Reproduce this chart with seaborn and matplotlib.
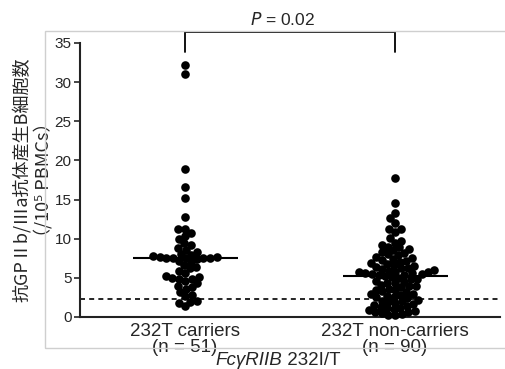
import numpy as np
import pandas as pd
import matplotlib
matplotlib.use("Agg")
import matplotlib.pyplot as plt
import seaborn as sns
from matplotlib.patches import Rectangle

# 抗GPIIb/IIIa抗体産生B細胞数 per 10^5 PBMCs
groups = ["232T carriers\n(n = 51)", "232T non-carriers\n(n = 90)"]

carriers = [32.2, 31.1, 18.9, 16.6, 15.2, 12.8, 11.2, 11.2, 10.7, 10.3,
            9.9, 9.4, 9.2, 8.8, 8.6, 8.3, 8.1, 7.9, 7.8, 7.7,
            7.7, 7.6, 7.6, 7.6, 7.55, 7.5, 7.4, 7.2, 7.0, 6.7,
            6.4, 6.2, 5.9, 5.6, 5.3, 5.1, 5.0, 4.9, 4.8, 4.6,
            4.3, 4.0, 3.8, 3.6, 3.2, 2.8, 2.7, 2.0, 1.9, 1.8, 1.4]

non_carriers = [17.8, 14.6, 13.3, 12.6, 12.0, 11.2, 11.2, 10.8, 10.1, 9.7,
                9.5, 9.2, 9.0, 8.9, 8.7, 8.5, 8.3, 8.2, 8.0, 7.9,
                7.7, 7.6, 7.4, 7.3, 7.1, 7.0, 6.9, 6.8, 6.6, 6.5,
                6.4, 6.3, 6.2, 6.1, 6.0, 5.9, 5.8, 5.8, 5.7, 5.6,
                5.6, 5.5, 5.5, 5.4, 5.4, 5.2, 5.1, 5.0, 4.9, 4.8,
                4.6, 4.5, 4.4, 4.3, 4.1, 4.0, 3.9, 3.8, 3.6, 3.5,
                3.4, 3.3, 3.2, 3.0, 2.9, 2.8, 2.7, 2.6, 2.5, 2.4,
                2.2, 2.1, 2.0, 1.9, 1.8, 1.7, 1.5, 1.4, 1.3, 1.2,
                1.1, 1.0, 0.9, 0.8, 0.7, 0.6, 0.5, 0.4, 0.3, 0.2]

cutoff = 2.3
x_title_it = "Fc\u03b3RIIB"
x_title_rest = " 232I/T"
y_label = "抗GPⅡb/Ⅲa抗体産生B細胞数\n（/10⁵ PBMCs）"

df = pd.DataFrame({
    "group": [groups[0]] * len(carriers) + [groups[1]] * len(non_carriers),
    "value": carriers + non_carriers,
})
medians = df.groupby("group", sort=False)["value"].median().tolist()

sns.set_style("ticks")
plt.rcParams["font.family"] = ["Liberation Sans", "Noto Sans CJK JP", "DejaVu Sans"]

fig = plt.figure(figsize=(5.05, 3.69), dpi=100)
# faint frame around the panel
fig.patches.append(Rectangle((45 / 505, 1 - 348 / 369), 520 / 505, 317 / 369,
                             transform=fig.transFigure, fill=False,
                             edgecolor="#cfcfcf", lw=1, zorder=0))
ax = fig.add_axes([80 / 505, 1 - 317 / 369, 420 / 505, 274 / 369])

# lay out the swarm with small dots, then enlarge them so they overlap
sns.swarmplot(data=df, x="group", y="value", order=groups, color="black",
              size=4.6, ax=ax, clip_on=False, zorder=3)
ax.set_xlim(-0.5, 1.5)
ax.set_ylim(0, 35)
fig.canvas.draw()
for coll in ax.collections:
    if "draw" in coll.__dict__:
        del coll.draw
        coll.set_sizes([6.2 ** 2])

for i, m in enumerate(medians):
    ax.hlines(m, i - 0.25, i + 0.25, color="black", lw=1.5, zorder=4)
ax.axhline(cutoff, color="black", lw=1.2, ls=(0, (3, 2.5)), zorder=2)

ax.set_xlim(-0.5, 1.5)
ax.set_ylim(0, 35)
ax.set_yticks(range(0, 36, 5))
ax.tick_params(axis="y", labelsize=11, length=4, width=1.2, pad=2)
ax.tick_params(axis="x", labelsize=13.5, length=0, pad=4)
for lab in ax.get_xticklabels():
    lab.set_linespacing(0.95)
ax.set_xlabel("")
ax.set_ylabel(y_label, family=["Noto Sans CJK JP", "DejaVu Sans"],
              fontsize=13, linespacing=1.15)
ax.yaxis.set_label_coords(-0.066, 0.5)
sns.despine(ax=ax)
for s in ["left", "bottom"]:
    ax.spines[s].set_linewidth(1.5)
    ax.spines[s].set_color("#222222")

# significance bracket
ax.plot([0, 0, 1, 1], [33.85, 36.45, 36.45, 33.85], color="black", lw=1.3,
        clip_on=False)
ax.text(0.466, 37.3, "$P$ = 0.02", ha="center", va="baseline", fontsize=12.5)

# x-axis title
fig.text(282 / 505, 4 / 369, x_title_it, ha="right", va="baseline",
         fontsize=13.5, style="italic")
fig.text(282 / 505, 4 / 369, x_title_rest, ha="left", va="baseline",
         fontsize=13.5)

fig.savefig("out.png", dpi=100)
